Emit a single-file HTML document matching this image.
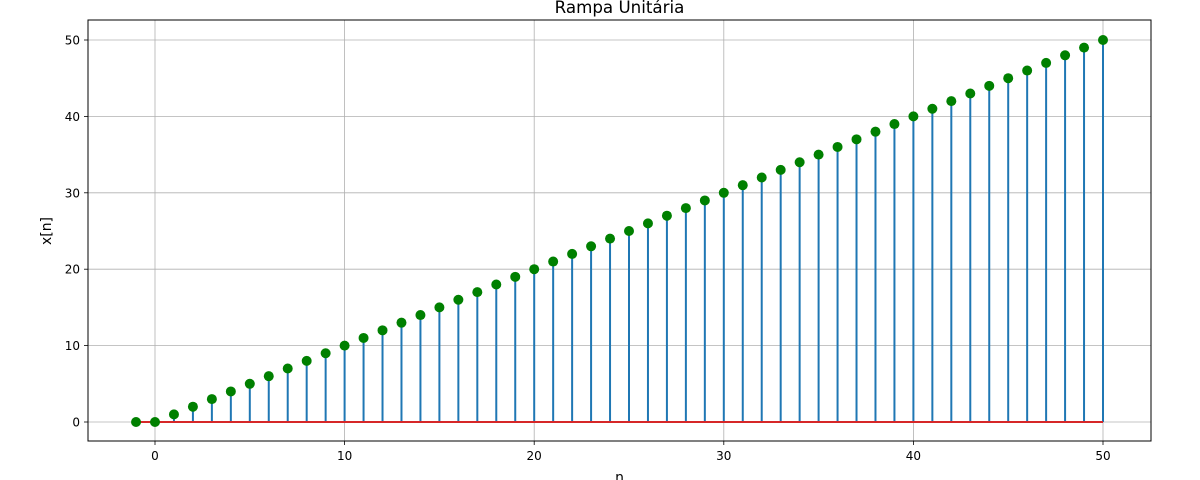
<!DOCTYPE html>
<html><head><meta charset="utf-8">
<style>
body{margin:0;background:#fff;}
svg{display:block;font-family:"DejaVu Sans","Liberation Sans",sans-serif;}
</style></head>
<body>
<svg id="chart" width="1200" height="480" viewBox="0 0 1200 480" xmlns="http://www.w3.org/2000/svg">
<text x="619.5" y="13" font-size="16.7" text-anchor="middle">Rampa Unitária</text>
<g id="grid"></g>
<g id="stems"></g>
<g id="markers"></g>
<rect x="88" y="20" width="1063" height="421" fill="none" stroke="#000" stroke-width="1"/>
<g id="ticks"></g>
<text x="619.5" y="482" font-size="13.9" text-anchor="middle">n</text>
<text x="0" y="0" font-size="13.9" text-anchor="middle" transform="translate(51,231) rotate(-90)">x[n]</text>
</svg>
<script>
const nValues = [-1,0,1,2,3,4,5,6,7,8,9,10,11,12,13,14,15,16,17,18,19,20,21,22,23,24,25,26,27,28,29,30,31,32,33,34,35,36,37,38,39,40,41,42,43,44,45,46,47,48,49,50];
const values = [0,0,1,2,3,4,5,6,7,8,9,10,11,12,13,14,15,16,17,18,19,20,21,22,23,24,25,26,27,28,29,30,31,32,33,34,35,36,37,38,39,40,41,42,43,44,45,46,47,48,49,50];
const xTicks = [0,10,20,30,40,50];
const yTicks = [0,10,20,30,40,50];

const NS = "http://www.w3.org/2000/svg";
const L=88,R=1151,T=20,B=441;
function sx(v){return 155 + (v-0)*(1103-155)/50;}
function sy(v){return 422 - v*(422-40)/50;}
function mk(tag,attrs,parent){const e=document.createElementNS(NS,tag);for(const k in attrs)e.setAttribute(k,attrs[k]);parent.appendChild(e);return e;}

const grid=document.getElementById('grid'),ticks=document.getElementById('ticks');
xTicks.forEach(t=>{
  const x=sx(t);
  const g=mk('line',{x1:x,x2:x,y1:T,y2:B,stroke:'#b0b0b0','stroke-width':0.8},grid);
  
  
  const tk=mk('line',{x1:x,x2:x,y1:B,y2:B+4,stroke:'#000','stroke-width':0.8},ticks);
  
  
  const lb=mk('text',{x:x,y:B+19,'font-size':12,'text-anchor':'middle'},ticks);
  lb.textContent=t;
  
  
});
yTicks.forEach(t=>{
  const y=sy(t);
  const g=mk('line',{x1:L,x2:R,y1:y,y2:y,stroke:'#b0b0b0','stroke-width':0.8},grid);
  
  
  const tk=mk('line',{x1:L-4,x2:L,y1:y,y2:y,stroke:'#000','stroke-width':0.8},ticks);
  
  
  const lb=mk('text',{x:L-8,y:y+4.5,'font-size':12,'text-anchor':'end'},ticks);
  lb.textContent=t;
  
  
});

const stems=document.getElementById('stems'),markers=document.getElementById('markers');
nValues.forEach((n,i)=>{
  const s=mk('line',{x1:sx(n),x2:sx(n),y1:sy(0),y2:sy(values[i]),stroke:'#1f77b4','stroke-width':2},stems);
  
  
});
const base=mk('line',{x1:sx(nValues[0]),x2:sx(nValues[nValues.length-1]),y1:sy(0),y2:sy(0),stroke:'#d62728','stroke-width':2},stems);


nValues.forEach((n,i)=>{
  const c=mk('circle',{cx:sx(n),cy:sy(values[i]),r:5,fill:'#008000'},markers);
  
  
});
</script>
</body></html>
